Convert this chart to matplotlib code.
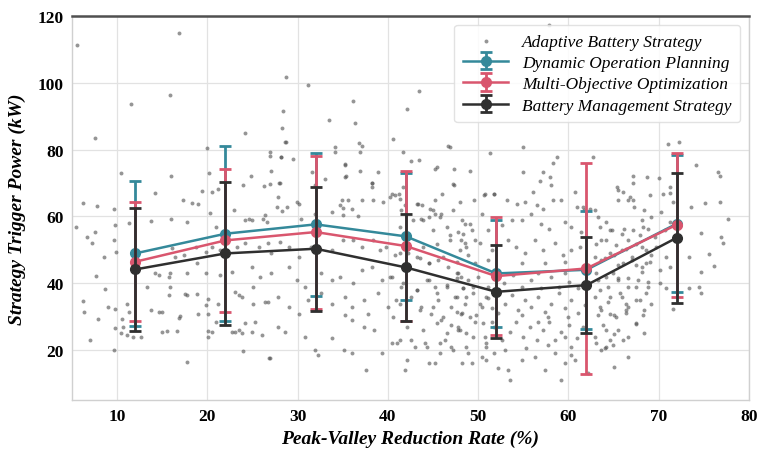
import numpy as np
import matplotlib
matplotlib.use("Agg")
import matplotlib.pyplot as plt

# --- Data ---
x_pos = [12, 22, 32, 42, 52, 62, 72]

dop_mean = [48.9, 54.8, 57.6, 54.0, 42.9, 44.0, 57.8]
dop_err = [21.7, 26.2, 21.5, 18.9, 16.1, 17.7, 20.6]

moo_mean = [46.4, 52.8, 55.3, 51.1, 42.1, 44.4, 57.5]
moo_err = [17.8, 21.3, 22.9, 22.4, 17.6, 31.5, 21.6]

bms_mean = [44.1, 48.9, 50.3, 44.7, 37.4, 39.4, 53.6]
bms_err = [18.4, 21.3, 18.5, 15.9, 13.9, 14.4, 19.4]

x_ticks = [10, 20, 30, 40, 50, 60, 70, 80]
y_ticks = [20, 40, 60, 80, 100, 120]

# scatter cloud (Adaptive Battery Strategy)
scatter_pts = [
    (5.6, 111.2), (6.2, 63.9), (7.5, 83.6), (7.8, 63.0), (10.4, 73.1), (9.7, 62.2), (11.5, 93.6),
    (11.3, 58.0), (13.7, 58.5), (14.2, 67.0), (15.9, 96.2), (16.0, 72.2), (16.8, 115.0), (16.0, 59.3),
    (17.3, 64.8), (17.7, 58.3), (18.3, 64.0), (19.0, 63.8), (19.4, 67.6), (20.0, 80.4), (20.2, 73.0),
    (20.5, 67.3), (20.3, 61.0), (21.2, 68.3), (23.0, 61.8), (24.2, 84.9), (23.9, 69.3), (24.8, 72.2),
    (24.6, 59.3), (26.4, 60.5), (26.9, 79.2), (27.7, 62.8), (27.9, 70.0), (28.2, 77.7), (28.3, 86.5),
    (28.4, 91.4), (28.7, 101.8), (28.7, 82.2), (28.3, 61.7), (29.9, 64.3), (31.2, 99.4), (31.6, 73.2),
    (31.9, 69.5), (33.0, 71.2), (33.5, 88.9), (34.1, 80.7), (35.3, 75.5), (35.4, 72.2), (36.1, 94.6),
    (36.4, 87.9), (36.8, 81.9), (36.9, 79.2), (36.9, 73.7), (35.0, 62.4), (37.1, 64.8), (38.2, 69.9),
    (38.9, 73.2),
    (5.4, 56.8), (6.7, 53.8), (7.6, 55.3), (7.2, 51.9), (9.8, 57.3), (9.6, 53.0), (8.6, 47.7), (9.9, 49.4),
    (16.1, 50.4), (16.4, 47.9), (17.4, 48.3), (18.7, 50.9), (19.8, 49.4), (20.5, 50.9), (21.4, 49.9),
    (14.2, 42.9), (14.6, 42.4), (15.9, 43.1), (15.7, 41.7), (17.7, 42.9), (18.8, 45.9), (19.9, 42.9),
    (21.4, 42.4), (7.7, 42.1), (8.7, 38.1), (6.2, 34.6), (6.3, 31.4), (7.9, 29.4), (9.0, 32.9),
    (9.8, 32.3), (10.5, 29.4), (11.1, 33.8), (11.3, 31.4), (13.3, 38.9), (13.7, 32.0), (14.6, 31.4),
    (15.0, 31.4), (15.7, 36.3), (15.9, 38.8), (17.5, 36.8), (17.7, 36.3), (18.8, 36.8), (20.1, 35.3),
    (19.8, 33.4), (20.1, 30.9), (21.2, 33.9), (17.0, 30.2), (16.8, 29.6), (19.0, 30.7),
    (9.8, 26.5), (10.7, 27.0), (10.4, 25.0), (11.1, 24.5), (11.8, 24.0), (15.0, 25.5), (15.5, 25.7),
    (16.6, 25.8), (20.1, 25.8), (20.5, 25.5), (22.7, 25.5), (23.5, 26.0), (23.8, 25.0), (24.9, 25.5),
    (24.2, 28.0), (12.7, 24.0), (20.1, 24.0), (26.0, 24.5), (7.0, 23.0), (9.7, 20.0), (17.7, 16.5),
    (23.9, 19.8), (26.8, 17.5), (24.2, 58.8), (24.9, 58.8), (26.2, 59.3), (26.6, 58.3), (20.9, 56.8),
    (26.3, 69.0), (22.7, 43.4), (23.1, 37.4), (23.5, 36.4), (23.8, 35.9), (25.1, 38.9), (26.4, 34.4),
    (25.1, 33.9), (25.8, 41.9), (23.3, 50.9), (24.2, 51.9), (25.7, 50.9), (24.9, 44.9), (27.0, 48.9),
    (21.0, 28.5), (25.3, 28.5), (23.1, 25.5),
    (28.6, 82.2), (37.1, 81.2), (42.6, 76.7), (45.2, 74.2), (46.9, 80.9), (47.2, 69.8),
    (26.9, 78.2), (28.2, 77.7), (29.5, 77.2), (27.1, 73.7), (26.9, 69.8), (28.0, 70.0),
    (35.2, 75.7), (35.2, 71.8), (34.1, 79.2), (34.7, 63.3), (34.9, 64.8), (35.6, 64.8), (36.0, 62.3),
    (35.0, 60.3), (36.7, 60.0), (38.2, 70.0), (38.2, 68.8), (38.4, 64.8),
    (40.4, 66.8), (40.8, 66.3), (41.3, 65.3), (41.9, 63.3), (41.5, 61.8), (43.3, 63.8), (44.5, 59.8),
    (45.0, 61.8), (45.9, 60.8), (42.8, 58.8), (43.7, 59.3), (46.5, 56.8), (46.9, 54.3), (47.8, 55.3),
    (48.1, 52.8), (48.5, 51.9), (27.8, 65.8), (28.8, 62.8), (30.1, 63.8), (30.4, 59.3), (31.9, 60.8),
    (33.8, 61.3),
    (26.7, 51.9), (28.0, 52.4), (29.0, 50.9), (30.1, 47.9), (31.5, 50.9), (33.8, 49.9), (35.0, 52.8),
    (36.1, 52.8), (37.1, 50.9), (38.4, 52.8), (39.1, 49.9), (39.8, 50.9), (40.8, 48.4), (42.2, 48.9),
    (43.5, 47.4), (44.6, 45.9), (45.6, 46.9), (46.7, 44.9), (47.6, 42.9), (48.1, 41.9),
    (27.1, 42.9), (29.0, 44.9), (29.9, 40.9), (30.8, 38.9), (32.6, 42.9), (33.8, 40.9), (34.7, 41.9),
    (36.1, 39.9), (37.1, 43.9), (38.2, 44.9), (39.3, 40.9), (40.4, 41.9), (41.5, 38.9), (43.2, 37.9),
    (44.5, 40.9), (45.2, 38.9), (46.5, 39.4), (47.4, 35.9), (48.3, 38.4), (45.6, 34.9), (47.0, 32.9),
    (48.1, 30.9),
    (26.7, 34.4), (27.8, 35.9), (29.0, 32.9), (30.1, 30.9), (31.2, 34.9), (32.6, 36.9), (33.8, 33.9),
    (35.2, 35.9), (36.0, 32.9), (37.4, 34.9), (37.8, 30.9), (38.9, 36.9), (40.0, 32.9), (40.9, 34.9),
    (42.6, 35.9), (43.7, 32.9), (44.8, 30.9), (45.9, 28.9), (47.0, 27.5), (47.8, 26.0),
    (27.8, 27.0), (28.6, 25.5), (30.8, 24.0), (31.9, 20.0), (32.3, 18.5), (33.8, 23.5), (35.2, 30.5),
    (36.0, 29.0), (37.4, 27.0), (38.5, 26.0), (39.3, 19.0), (40.4, 22.0), (41.3, 23.0), (41.9, 14.0),
    (43.0, 21.0), (44.1, 22.0), (45.2, 16.0), (46.3, 23.0), (47.0, 21.0),
    (26.9, 17.5), (37.6, 14.0), (35.1, 20.0), (36.0, 19.0),
    (41.3, 56.8), (43.2, 63.8), (43.9, 58.8), (45.0, 55.8), (45.8, 59.8), (47.2, 61.8), (48.5, 57.8),
    (49.3, 55.8), (46.9, 52.8), (45.4, 51.8), (43.9, 50.8), (43.2, 47.9), (44.6, 45.9), (46.1, 47.9),
    (47.6, 46.4), (48.7, 50.8), (41.3, 48.9), (40.2, 41.9), (41.7, 39.9), (43.2, 37.9), (44.3, 40.9),
    (45.4, 36.9), (46.5, 38.9), (47.6, 41.4), (48.7, 35.9), (49.4, 38.9), (41.3, 33.9), (43.5, 31.9),
    (45.0, 32.9), (46.1, 30.0), (47.6, 31.4), (49.1, 30.0), (50.2, 33.9), (50.9, 35.9), (40.6, 30.0),
    (42.1, 27.0), (43.9, 26.0), (45.4, 28.0), (46.5, 25.0), (48.0, 26.0), (49.4, 24.0), (50.5, 28.0),
    (41.0, 22.0), (42.6, 23.0), (44.3, 21.0), (45.8, 22.0), (47.2, 20.0), (48.7, 21.0), (50.9, 22.0),
    (42.1, 17.0), (44.6, 16.0), (45.8, 19.0), (49.3, 16.0), (50.9, 17.0),
    (57.8, 117.3), (43.4, 97.6), (42.1, 92.1), (40.6, 83.2), (46.7, 81.0), (55.0, 80.7), (51.3, 78.9),
    (41.7, 79.2), (43.4, 76.9), (45.4, 74.7), (47.3, 74.2), (49.1, 73.7), (58.7, 77.7), (58.3, 75.9),
    (62.7, 77.7), (56.9, 70.7), (58.0, 71.7), (57.2, 73.2), (55.0, 73.2), (71.0, 81.7), (72.2, 82.2),
    (74.1, 75.5), (76.6, 73.2), (76.8, 72.2), (67.2, 72.2), (68.7, 71.7), (67.2, 70.0), (65.4, 68.7),
    (66.0, 67.2), (65.5, 64.8), (67.2, 64.8), (69.0, 66.3), (70.5, 66.8), (71.3, 68.7), (75.1, 64.0),
    (76.8, 64.3), (60.9, 62.8), (61.7, 61.8), (62.4, 62.3), (77.7, 59.3), (39.5, 64.3), (40.2, 65.8),
    (41.2, 66.8), (41.7, 68.7), (43.8, 63.3), (44.7, 62.3), (45.2, 64.8), (45.2, 60.8), (46.0, 66.8),
    (47.3, 69.3), (48.0, 64.3), (49.5, 64.8), (50.6, 66.3), (51.7, 66.6), (53.2, 64.8), (54.3, 63.8),
    (55.2, 64.3), (56.5, 63.3), (57.2, 62.3), (58.3, 64.8), (59.2, 64.8),
    (50.7, 66.8), (51.7, 66.8), (56.1, 67.3), (58.1, 69.3), (60.7, 67.3), (61.6, 62.8), (62.9, 61.8),
    (64.2, 58.3), (65.5, 67.8), (66.6, 64.8), (67.3, 62.8), (68.4, 61.8), (68.1, 58.8), (69.2, 59.8),
    (48.2, 58.8), (49.1, 57.8), (50.4, 60.8), (51.1, 55.8), (52.6, 57.3), (53.7, 58.8), (54.8, 58.8),
    (55.9, 60.8), (57.0, 57.8), (57.9, 56.3), (59.6, 58.3), (60.3, 56.8), (61.4, 55.3), (63.3, 59.8),
    (64.8, 55.8), (66.2, 56.3), (67.9, 54.3), (68.8, 56.3), (66.6, 52.8), (48.3, 54.8), (49.6, 52.8),
    (48.0, 49.9), (48.9, 48.4), (50.2, 51.9), (51.5, 49.9), (53.3, 52.8), (54.2, 50.9), (55.2, 48.9),
    (56.3, 52.8), (57.2, 49.9), (58.5, 51.9), (59.4, 48.4), (60.3, 49.9), (61.3, 50.9), (63.6, 52.8),
    (64.6, 48.9), (65.9, 49.9), (67.0, 47.9), (68.1, 50.9), (69.2, 48.4), (49.6, 45.9), (51.1, 46.9),
    (54.8, 45.9), (57.4, 45.9), (59.6, 46.4), (63.6, 46.9), (65.5, 45.4), (67.5, 45.4), (68.6, 45.9),
    (47.8, 42.9), (48.9, 40.9), (50.0, 41.9), (51.1, 38.9), (52.9, 39.9), (53.9, 42.4), (54.8, 38.9),
    (55.9, 40.9), (57.0, 38.4), (58.1, 41.9), (59.0, 38.9), (60.1, 40.4), (61.1, 38.4), (63.3, 40.9),
    (64.4, 38.9), (65.5, 41.4), (66.6, 38.9), (67.7, 40.9), (68.8, 38.9), (48.3, 38.4), (51.8, 41.4),
    (56.6, 42.9), (59.6, 42.9), (64.9, 42.9), (68.1, 43.4),
    (47.6, 35.9), (48.5, 33.9), (49.4, 36.9), (50.4, 33.0), (51.1, 35.4), (52.2, 31.0), (53.0, 33.9),
    (53.7, 36.4), (54.4, 32.0), (55.2, 34.9), (55.9, 33.0), (56.6, 35.9), (57.4, 31.5), (58.1, 33.9),
    (58.9, 36.9), (59.6, 32.5), (60.3, 34.9), (61.1, 31.0), (61.8, 33.5), (62.9, 35.9), (63.6, 32.0),
    (64.4, 34.4), (65.1, 30.5), (65.9, 35.9), (66.6, 33.0), (67.5, 34.9), (68.4, 32.0), (69.2, 33.9),
    (48.2, 31.0), (49.8, 30.5), (51.5, 32.5), (54.8, 30.5), (57.7, 30.0), (60.0, 30.0), (63.3, 30.5),
    (66.4, 31.0), (68.3, 30.5),
    (47.8, 27.0), (48.7, 25.0), (49.6, 28.5), (50.7, 24.0), (51.7, 27.0), (52.6, 23.0), (53.5, 25.5),
    (54.2, 28.5), (55.0, 24.0), (55.7, 27.0), (56.5, 23.0), (57.2, 26.0), (57.9, 28.5), (58.5, 23.0),
    (59.2, 25.5), (60.1, 27.5), (60.9, 23.5), (61.6, 27.0), (62.9, 24.0), (63.8, 27.5), (64.6, 23.0),
    (65.5, 26.0), (66.6, 24.0), (67.5, 28.0), (68.4, 25.0), (50.9, 21.0), (53.0, 20.0), (55.3, 20.5),
    (57.7, 21.5), (60.3, 21.0), (63.6, 20.0), (64.9, 21.5), (51.5, 28.5), (56.6, 28.5), (59.6, 24.0),
    (48.9, 19.0), (50.4, 18.0), (51.8, 19.0), (52.2, 14.5), (53.3, 14.0), (54.8, 17.0), (56.3, 18.0),
    (57.4, 14.0), (58.5, 19.0), (59.6, 16.0), (60.7, 17.0), (62.2, 13.0), (64.2, 21.0), (66.6, 18.0),
    (48.2, 16.0), (53.5, 11.1), (59.2, 11.1), (65.1, 15.0), (60.3, 18.5),
    (70.0, 71.5), (66.8, 65.8), (71.2, 67.0), (71.6, 64.3), (73.6, 62.8), (70.3, 61.3), (71.2, 58.3),
    (74.7, 55.1), (76.9, 53.8), (77.1, 52.0), (73.4, 47.9), (75.6, 48.7), (76.1, 45.1), (74.7, 43.4),
    (73.4, 38.4), (74.7, 37.1), (74.5, 38.9), (71.6, 32.4),
    (63.5, 56.8), (64.6, 55.8), (65.9, 54.8), (67.2, 55.8), (68.3, 56.8), (69.6, 53.8), (70.7, 55.8),
    (63.1, 51.8), (64.2, 52.8), (65.3, 51.3), (66.4, 50.3), (67.5, 51.8), (68.6, 49.8), (69.7, 50.8),
    (70.8, 47.9), (62.9, 47.9), (64.0, 47.4), (65.1, 48.4), (66.0, 45.9), (67.0, 46.9), (68.1, 44.9),
    (69.0, 46.4), (70.1, 43.9), (71.2, 44.9), (63.1, 42.9), (64.2, 41.9), (65.5, 40.9), (66.6, 41.4),
    (67.5, 38.9), (68.8, 40.4), (70.1, 39.9), (70.8, 38.4), (63.5, 37.9), (64.6, 35.9), (65.7, 36.9),
    (66.4, 33.9), (67.9, 34.9), (68.6, 36.9), (63.5, 32.9), (64.6, 30.9), (65.3, 29.9), (66.4, 31.9),
    (67.5, 27.9), (64.2, 25.9), (65.1, 24.9), (66.0, 23.0), (64.0, 20.5), (63.1, 22.0),
]
scatter_x = [p[0] for p in scatter_pts]
scatter_y = [p[1] for p in scatter_pts]

# --- Style ---
plt.rcParams["font.family"] = ["Liberation Serif", "DejaVu Serif"]
C_DOP = "#34899a"
C_MOO = "#d9566e"
C_BMS = "#2f2f2f"

fig = plt.figure(figsize=(7.57, 4.52), dpi=100)
ax = fig.add_axes([0.0951, 0.1128, 0.8943, 0.8496])

ax.scatter(scatter_x, scatter_y, s=8, color="#4f4f4f", alpha=0.6, linewidths=0,
           label="Adaptive Battery Strategy", zorder=2)

eb_kw = dict(marker="o", markersize=7, linewidth=1.8, elinewidth=2.0,
             capsize=4.5, capthick=2.0)
ax.errorbar(x_pos, dop_mean, yerr=dop_err, color=C_DOP, label="Dynamic Operation Planning",
            zorder=3, **eb_kw)
ax.errorbar(x_pos, moo_mean, yerr=moo_err, color=C_MOO, label="Multi-Objective Optimization",
            zorder=4, **eb_kw)
ax.errorbar(x_pos, bms_mean, yerr=bms_err, color=C_BMS, label="Battery Management Strategy",
            zorder=5, **eb_kw)

ax.set_xlim(5, 80)
ax.set_ylim(5, 120)
ax.set_xticks(x_ticks)
ax.set_yticks(y_ticks)
ax.grid(True, color="#e2e2e2", linewidth=0.9, zorder=0)
ax.set_axisbelow(True)
ax.tick_params(length=0, pad=6)
for lab in ax.get_xticklabels() + ax.get_yticklabels():
    lab.set_fontweight("bold")
    lab.set_fontsize(12.5)

for side in ["left", "bottom", "right"]:
    ax.spines[side].set_color("#d0d0d0")
    ax.spines[side].set_linewidth(1.0)
ax.spines["top"].set_color("#505050")
ax.spines["top"].set_linewidth(1.8)

ax.set_xlabel("Peak-Valley Reduction Rate (%)", fontsize=14, style="italic",
              fontweight="bold", labelpad=4)
ax.set_ylabel("Strategy Trigger Power (kW)", fontsize=14, style="italic",
              fontweight="bold", labelpad=8)

leg = ax.legend(loc="upper right", prop={"style": "italic", "size": 12.5},
                labelspacing=0.3, handlelength=2.6, borderpad=0.5, framealpha=0.85,
                edgecolor="#dddddd")

fig.savefig("out.png", dpi=100)
